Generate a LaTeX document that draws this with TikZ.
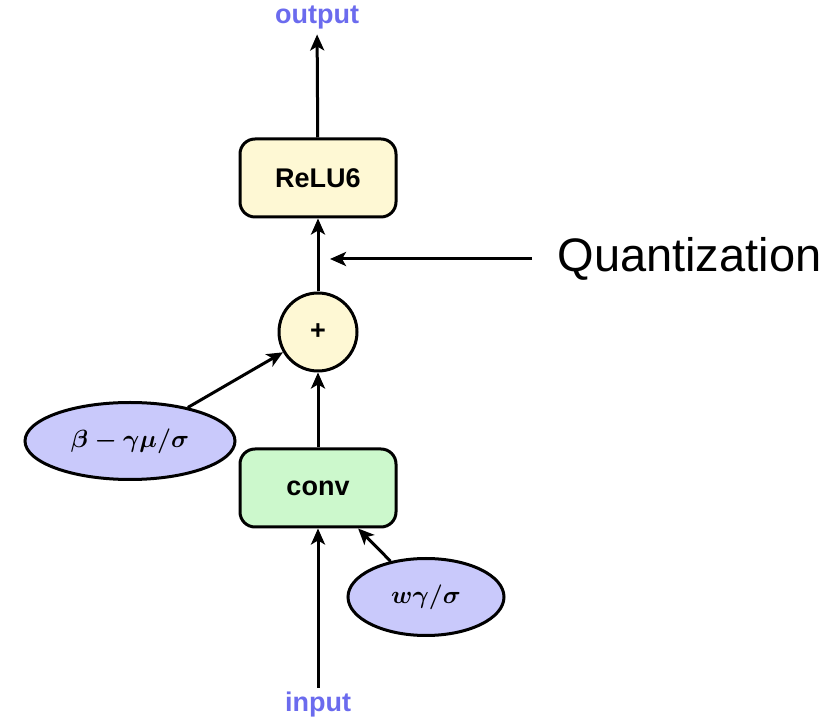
\documentclass[tikz,border=0pt]{standalone}
\usepackage{amsmath}
\usepackage{fontspec}
\setsansfont{Liberation Sans}
\usepackage{tikz}
\usetikzlibrary{shapes,arrows}
\usetikzlibrary{arrows.meta, positioning}

\definecolor{io}{HTML}{6B6BEE}
\definecolor{yel}{HTML}{FEF8D4}
\definecolor{grn}{HTML}{CCF8CC}
\definecolor{blu}{HTML}{C9C9FB}

\begin{document}
\begin{tikzpicture}[x=1pt, y=1pt, line width=3pt,
    >={Stealth[length=16pt,width=14pt,inset=4pt]},
    lbl/.style={font=\fontsize{27}{30}\selectfont\sffamily\bfseries},
    box/.style={lbl, draw, rounded corners=15pt, minimum width=156pt, minimum height=78pt},
    param/.style={draw, ellipse, fill=blu, font=\fontsize{28}{32}\selectfont\boldmath}]
        \useasboundingbox (0,0) rectangle (838,720);

        \node[lbl, text=io] (in) at (318,15) {input};
        \node[box, fill=grn] (conv) at (318,232) {conv};
        \node[lbl, draw, circle, fill=yel, minimum size=78pt, inner sep=0pt] (add) at (318,388) {+};
        \node[box, fill=yel] (relu) at (318,542) {ReLU6};
        \node[lbl, text=io] (out) at (317,702) {output};

        \node[param, minimum width=156pt, minimum height=77pt] (w) at (426,123) {$w\gamma/\sigma$};
        \node[param, minimum width=210pt, minimum height=77pt] (b) at (130,279) {$\beta-\gamma\mu/\sigma$};

        % quantization point
        \coordinate (q) at (330,461);
        \node[font=\fontsize{47}{54}\selectfont\sffamily, anchor=west, inner xsep=24pt, inner ysep=0pt] (quant) at (532,461) {Quantization};

        \draw[->] (in) -- (conv);
        \draw[->] (conv) -- (add);
        \draw[->] (add) -- (relu);
        \draw[->] (relu) -- (out);
        \draw[->] (w) -- (conv);
        \draw[->] (b) -- (add);
        \draw[->] (quant.west) -- (q);
  \end{tikzpicture}
\end{document}
